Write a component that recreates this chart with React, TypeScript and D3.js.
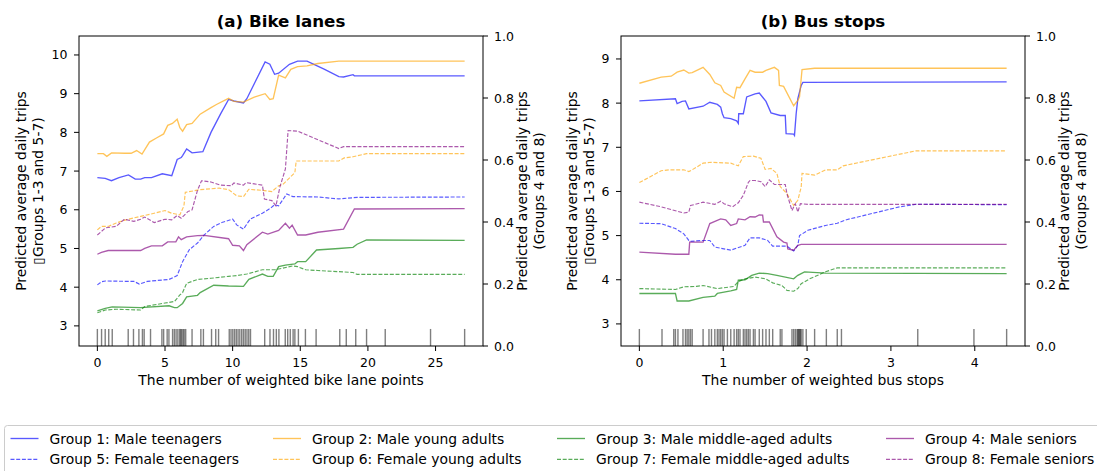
import React from 'react';
import * as d3 from 'd3';

type Pt = [number, number];

// ---------- Panel (a): bike lanes ----------
const bikeG1: Pt[] = [[0,6.83],[0.58,6.81],[1.04,6.75],[1.6,6.83],[2.3,6.9],[2.8,6.79],[3.2,6.79],[3.5,6.83],[4.0,6.83],[4.8,6.93],[5.5,6.88],[5.9,7.3],[6.2,7.35],[6.3,7.4],[6.6,7.57],[7.0,7.47],[7.8,7.5],[8.4,8.0],[9.1,8.47],[9.7,8.85],[10.1,8.81],[10.8,8.76],[11.05,8.87],[12.4,9.82],[12.75,9.76],[13.1,9.5],[13.4,9.53],[14.2,9.76],[14.8,9.84],[15.5,9.84],[16.8,9.63],[17.85,9.44],[18.2,9.43],[18.9,9.49],[19.0,9.46],[27.15,9.46]];
const bikeG2: Pt[] = [[0,7.45],[0.45,7.45],[0.7,7.38],[1.05,7.47],[2.0,7.46],[2.5,7.46],[2.9,7.53],[3.3,7.44],[3.85,7.75],[4.4,7.86],[4.9,7.96],[5.2,8.18],[5.55,8.23],[5.9,8.34],[6.1,8.12],[6.3,8.03],[6.6,8.2],[7.0,8.23],[7.6,8.47],[8.4,8.64],[8.8,8.72],[9.7,8.88],[10.1,8.8],[10.8,8.78],[11.6,8.91],[12.4,9.0],[12.75,8.85],[13.0,8.87],[13.4,9.48],[13.9,9.41],[14.3,9.63],[14.8,9.7],[15.5,9.72],[16.3,9.78],[17.85,9.84],[27.15,9.84]];
const bikeG3: Pt[] = [[0,3.39],[0.58,3.45],[1.1,3.49],[3.2,3.47],[5.3,3.52],[5.7,3.47],[5.9,3.47],[6.3,3.58],[6.6,3.75],[7.4,3.79],[7.6,3.86],[8.6,4.05],[9.7,4.03],[10.8,4.02],[11.2,4.2],[12.2,4.34],[12.6,4.28],[13.0,4.28],[13.4,4.53],[13.9,4.57],[14.6,4.6],[14.8,4.66],[15.4,4.66],[16.2,4.96],[17.85,5.0],[18.9,5.03],[19.2,5.11],[19.9,5.22],[27.15,5.21]];
const bikeG4: Pt[] = [[0,0.296],[0.3,0.302],[0.8,0.308],[3.2,0.308],[3.5,0.315],[4.0,0.323],[4.8,0.323],[5.2,0.336],[5.8,0.336],[6.0,0.352],[6.2,0.343],[6.6,0.352],[7.4,0.356],[7.9,0.357],[9.7,0.346],[10.0,0.325],[10.5,0.323],[10.8,0.308],[11.05,0.327],[12.2,0.367],[12.6,0.361],[13.4,0.373],[13.9,0.396],[14.2,0.38],[14.4,0.39],[14.8,0.358],[15.4,0.358],[16.3,0.367],[18.2,0.377],[19.0,0.442],[27.15,0.443]];
const bikeG5: Pt[] = [[0,4.06],[0.3,4.14],[0.6,4.16],[2.2,4.15],[2.7,4.15],[3.1,4.08],[3.7,4.15],[5.3,4.2],[5.9,4.3],[6.3,4.66],[6.8,4.97],[7.4,5.14],[7.9,5.35],[8.6,5.57],[9.2,5.67],[10.0,5.76],[10.3,5.61],[10.8,5.5],[11.3,5.76],[12.2,5.91],[12.8,6.04],[13.1,6.13],[13.4,6.1],[14.0,6.41],[14.45,6.34],[16.3,6.33],[17.85,6.28],[19.2,6.32],[27.15,6.33]];
const bikeG6: Pt[] = [[0,5.48],[0.3,5.57],[0.8,5.57],[1.4,5.66],[2.1,5.74],[3.2,5.83],[4.2,5.91],[5.0,5.98],[5.5,5.91],[6.1,5.87],[6.4,6.1],[6.5,6.45],[7.6,6.52],[9.0,6.56],[9.7,6.52],[10.3,6.36],[10.8,6.34],[11.2,6.53],[12.2,6.5],[12.9,6.47],[13.4,6.62],[13.7,6.65],[14.6,6.96],[14.7,7.26],[17.85,7.26],[18.25,7.34],[18.9,7.37],[19.9,7.45],[27.15,7.45]];
const bikeG7: Pt[] = [[0,3.34],[0.6,3.41],[1.4,3.43],[3.2,3.41],[3.5,3.5],[5.0,3.59],[5.7,3.63],[6.1,3.8],[6.3,3.86],[6.6,4.1],[7.4,4.2],[8.4,4.23],[9.7,4.28],[10.3,4.3],[11.05,4.34],[12.2,4.45],[13.1,4.45],[13.7,4.49],[14.45,4.55],[14.8,4.53],[15.4,4.45],[16.3,4.43],[18.9,4.38],[19.2,4.33],[27.15,4.33]];
const bikeG8: Pt[] = [[0,0.358],[0.6,0.381],[1.4,0.386],[2.0,0.409],[2.7,0.402],[3.2,0.409],[3.5,0.416],[4.2,0.398],[5.0,0.409],[5.5,0.407],[5.9,0.421],[6.2,0.412],[6.7,0.434],[7.0,0.439],[7.4,0.502],[7.7,0.533],[8.4,0.529],[9.1,0.519],[9.9,0.517],[10.1,0.526],[10.8,0.519],[11.0,0.527],[12.2,0.519],[12.35,0.474],[12.9,0.469],[13.2,0.452],[13.5,0.514],[13.9,0.571],[14.1,0.695],[14.8,0.693],[17.85,0.637],[18.2,0.643],[27.15,0.643]];
const bikeRug: number[] = [0,0.31,0.58,0.84,1.1,2.28,2.67,3.07,3.33,3.46,3.93,4.77,4.9,5.16,5.29,5.56,5.69,5.82,5.95,6.08,6.16,6.24,6.34,6.42,6.53,7.0,7.65,7.84,8.44,8.75,8.96,9.75,9.88,10.01,10.14,10.27,10.4,10.53,10.67,10.8,10.93,11.06,11.19,11.32,12.37,12.76,13.02,13.23,13.42,13.89,14.07,14.26,14.47,14.6,14.86,15.38,16.17,17.92,18.4,19.1,19.9,21.28,24.63,27.15];
const bikeXTicks = [0, 5, 10, 15, 20, 25];
const bikeLeftTicks = [3, 4, 5, 6, 7, 8, 9, 10];
const bikeLeftDomain: [number, number] = [2.48, 10.49];

// ---------- Panel (b): bus stops ----------
const busG1: Pt[] = [[0,8.05],[0.43,8.1],[0.45,7.99],[0.51,8.04],[0.55,8.05],[0.59,7.87],[0.76,7.93],[0.84,8.02],[0.93,7.97],[0.97,7.91],[0.99,7.76],[1.01,7.67],[1.09,7.65],[1.16,7.6],[1.18,7.54],[1.185,7.76],[1.24,7.76],[1.28,8.14],[1.38,8.21],[1.43,8.23],[1.51,8.04],[1.57,7.78],[1.68,7.72],[1.74,7.72],[1.75,7.31],[1.84,7.3],[1.85,7.27],[1.87,7.76],[1.89,8.1],[1.93,8.4],[1.95,8.47],[4.38,8.48]];
const busG2: Pt[] = [[0,8.45],[0.26,8.59],[0.38,8.61],[0.45,8.7],[0.53,8.75],[0.59,8.68],[0.63,8.69],[0.76,8.81],[0.84,8.65],[0.9,8.46],[0.97,8.4],[1.01,8.25],[1.13,8.11],[1.16,8.36],[1.2,8.35],[1.26,8.55],[1.32,8.74],[1.38,8.7],[1.47,8.7],[1.51,8.74],[1.61,8.81],[1.66,8.74],[1.67,8.4],[1.72,8.38],[1.84,7.94],[1.89,8.06],[1.91,8.14],[1.94,8.76],[2.09,8.79],[4.38,8.79]];
const busG3: Pt[] = [[0,3.69],[0.43,3.69],[0.45,3.52],[0.59,3.52],[0.76,3.6],[0.9,3.63],[0.93,3.69],[1.09,3.75],[1.16,3.78],[1.18,3.99],[1.26,4.0],[1.34,4.1],[1.43,4.15],[1.53,4.14],[1.64,4.1],[1.84,4.02],[1.89,4.1],[1.97,4.18],[2.22,4.15],[4.38,4.14]];
const busG4: Pt[] = [[0,0.303],[0.43,0.296],[0.59,0.296],[0.6,0.335],[0.76,0.335],[0.84,0.395],[0.97,0.41],[1.03,0.407],[1.09,0.389],[1.16,0.395],[1.18,0.41],[1.26,0.407],[1.32,0.417],[1.38,0.416],[1.43,0.423],[1.47,0.422],[1.48,0.4],[1.55,0.4],[1.64,0.352],[1.72,0.335],[1.76,0.332],[1.77,0.313],[1.84,0.309],[1.89,0.325],[1.93,0.328],[4.38,0.328]];
const busG5: Pt[] = [[0,5.28],[0.26,5.27],[0.43,5.16],[0.53,5.04],[0.59,4.89],[0.61,4.87],[0.76,4.89],[0.84,4.89],[0.9,4.74],[1.09,4.67],[1.26,4.78],[1.32,4.95],[1.43,4.95],[1.53,4.89],[1.59,4.76],[1.76,4.76],[1.84,4.65],[1.89,4.78],[1.91,5.0],[2.01,5.12],[2.22,5.23],[2.36,5.28],[2.47,5.36],[3.1,5.65],[3.3,5.71],[4.38,5.7]];
const busG6: Pt[] = [[0,6.2],[0.26,6.47],[0.36,6.49],[0.53,6.49],[0.59,6.45],[0.63,6.49],[0.76,6.64],[0.86,6.66],[1.09,6.64],[1.18,6.58],[1.24,6.79],[1.36,6.8],[1.45,6.75],[1.5,6.5],[1.57,6.52],[1.64,6.41],[1.68,6.11],[1.76,5.95],[1.84,5.68],[1.89,5.8],[1.93,6.1],[1.94,6.41],[2.09,6.37],[2.22,6.49],[2.36,6.49],[2.43,6.58],[3.3,6.92],[4.38,6.92]];
const busG7: Pt[] = [[0,3.8],[0.43,3.78],[0.53,3.84],[0.68,3.85],[0.76,3.87],[0.93,3.8],[1.13,3.85],[1.18,3.96],[1.26,4.02],[1.38,4.06],[1.51,4.02],[1.59,3.93],[1.7,3.87],[1.76,3.76],[1.84,3.74],[1.89,3.8],[1.93,3.91],[2.03,4.02],[2.22,4.18],[2.36,4.27],[4.38,4.27]];
const busG8: Pt[] = [[0,0.464],[0.26,0.449],[0.53,0.429],[0.59,0.432],[0.61,0.453],[0.76,0.464],[0.9,0.457],[0.97,0.467],[1.01,0.459],[1.11,0.449],[1.18,0.462],[1.24,0.486],[1.3,0.528],[1.32,0.534],[1.38,0.534],[1.45,0.53],[1.5,0.514],[1.55,0.536],[1.61,0.521],[1.74,0.521],[1.76,0.491],[1.82,0.437],[1.86,0.459],[1.89,0.432],[1.92,0.459],[2.01,0.457],[4.38,0.457]];
const busRug: number[] = [0,0.27,0.41,0.43,0.46,0.52,0.55,0.57,0.59,0.61,0.63,0.76,0.83,0.86,0.9,0.93,0.95,0.97,0.99,1.01,1.05,1.09,1.13,1.16,1.18,1.2,1.24,1.26,1.28,1.3,1.32,1.36,1.38,1.43,1.47,1.51,1.55,1.59,1.68,1.7,1.82,1.84,1.86,1.88,1.89,1.9,1.91,1.92,1.93,1.95,1.99,2.09,2.23,2.36,2.41,3.32,3.99,4.38];
const busXTicks = [0, 1, 2, 3, 4];
const busLeftTicks = [3, 4, 5, 6, 7, 8, 9];
const busLeftDomain: [number, number] = [2.5, 9.52];

const rightTicks = [0, 0.2, 0.4, 0.6, 0.8, 1.0];
const rightDomain: [number, number] = [0, 1];

// ---------- Groups ----------
const groupNames = [
  'Group 1: Male teenagers', 'Group 2: Male young adults', 'Group 3: Male middle-aged adults', 'Group 4: Male seniors',
  'Group 5: Female teenagers', 'Group 6: Female young adults', 'Group 7: Female middle-aged adults', 'Group 8: Female seniors',
];
const groupColors = ['#0000ff', '#ffa500', '#008000', '#800080', '#0000ff', '#ffa500', '#008000', '#800080'];
const groupDashed = [false, false, false, false, true, true, true, true];
const groupRight = [false, false, false, true, false, false, false, true];

const bikeSeries = [bikeG1, bikeG2, bikeG3, bikeG4, bikeG5, bikeG6, bikeG7, bikeG8];
const busSeries = [busG1, busG2, busG3, busG4, busG5, busG6, busG7, busG8];

const FONT = 'DejaVu Sans, sans-serif';
const TXT = '#000';
const AX_TOP = 36;
const AX_BOTTOM = 346;
const AX_W = 404;
const DASH = '4,1.7';

function strokeProps(i: number) {
  return {
    stroke: groupColors[i],
    strokeOpacity: 0.65,
    strokeWidth: groupDashed[i] ? 1.15 : 1.35,
    strokeDasharray: groupDashed[i] ? DASH : undefined,
    fill: 'none',
  };
}

interface PanelProps {
  x0: number;
  title: string;
  xLabel: string;
  xTicks: number[];
  leftTicks: number[];
  leftDomain: [number, number];
  rug: number[];
  series: Pt[][];
  leftLabelOffset: number;
}

function Panel({ x0, title, xLabel, xTicks, leftTicks, leftDomain, rug, series, leftLabelOffset }: PanelProps) {
  const left = x0;
  const right = x0 + AX_W;
  const top = AX_TOP;
  const bottom = AX_BOTTOM;
  const ext = d3.extent(rug) as [number, number];
  const pad = (ext[1] - ext[0]) * 0.05;
  const x = d3.scaleLinear().domain([ext[0] - pad, ext[1] + pad]).range([left, right]);
  const yL = d3.scaleLinear().domain(leftDomain).range([bottom, top]);
  const yR = d3.scaleLinear().domain(rightDomain).range([bottom, top]);
  const rugTop = bottom - (bottom - top) * 0.055;
  const fmtR = d3.format('.1f');
  const cx = (left + right) / 2;
  const cy = (top + bottom) / 2;
  const order = [0, 1, 2, 4, 5, 6, 3, 7];

  return (
    <g>
      {/* rug */}
      {rug.map((v, i) => (
        <line key={'r' + i} x1={x(v)} x2={x(v)} y1={bottom} y2={rugTop} stroke="#000" strokeOpacity={0.5} strokeWidth={1.4} />
      ))}
      {/* lines */}
      {order.map((gi) => {
        const yS = groupRight[gi] ? yR : yL;
        const line = d3.line<Pt>().x((d) => x(d[0])).y((d) => yS(d[1]));
        return <path key={'s' + gi} d={line(series[gi]) || ''} {...strokeProps(gi)} />;
      })}
      {/* frame */}
      <rect x={left} y={top} width={AX_W} height={bottom - top} fill="none" stroke="#000" strokeWidth={1} />
      {/* x ticks */}
      {xTicks.map((t) => (
        <g key={'x' + t}>
          <line x1={x(t)} x2={x(t)} y1={bottom} y2={bottom + 5} stroke="#000" strokeWidth={1} />
          <text x={x(t)} y={366.5} textAnchor="middle" fontSize={12.5} fontFamily={FONT} fill={TXT}>{t}</text>
        </g>
      ))}
      {/* left ticks */}
      {leftTicks.map((t) => (
        <g key={'l' + t}>
          <line x1={left} x2={left - 5} y1={yL(t)} y2={yL(t)} stroke="#000" strokeWidth={1} />
          <text x={left - 11.5} y={yL(t)} dy="0.36em" textAnchor="end" fontSize={12.5} fontFamily={FONT} fill={TXT}>{t}</text>
        </g>
      ))}
      {/* right ticks */}
      {rightTicks.map((t) => (
        <g key={'rt' + t}>
          <line x1={right} x2={right + 5} y1={yR(t)} y2={yR(t)} stroke="#000" strokeWidth={1} />
          <text x={right + 11} y={yR(t)} dy="0.36em" textAnchor="start" fontSize={12.5} fontFamily={FONT} fill={TXT}>{fmtR(t)}</text>
        </g>
      ))}
      {/* title */}
      <text x={cx} y={27} textAnchor="middle" fontSize={16.7} fontWeight="bold" fontFamily={FONT} fill={TXT}>{title}</text>
      {/* x label */}
      <text x={cx} y={385} textAnchor="middle" fontSize={13.9} fontFamily={FONT} fill={TXT}>{xLabel}</text>
      {/* left y label */}
      <text transform={`translate(${left - leftLabelOffset},${cy}) rotate(-90)`} textAnchor="middle" fontSize={13.9} fontFamily={FONT} fill={TXT}>Predicted average daily trips</text>
      <text transform={`translate(${left - leftLabelOffset + 17},${cy}) rotate(-90)`} textAnchor="middle" fontSize={13.9} fontFamily={FONT} fill={TXT}>{'\u25AFGroups 1-3 and 5-7)'}</text>
      {/* right y label */}
      <text transform={`translate(${right + 44},${cy}) rotate(-90)`} textAnchor="middle" fontSize={13.9} fontFamily={FONT} fill={TXT}>Predicted average daily trips</text>
      <text transform={`translate(${right + 61},${cy}) rotate(-90)`} textAnchor="middle" fontSize={13.9} fontFamily={FONT} fill={TXT}>(Groups 4 and 8)</text>
    </g>
  );
}

const legendColX = [10.5, 273, 557, 886];
const legendRowY = [438.5, 459.3];

function Legend() {
  return (
    <g>
      <rect x={4.5} y={425.5} width={1120} height={70} rx={3} fill="#fff" fillOpacity={0.8} stroke="#cccccc" strokeWidth={1} />
      {groupNames.map((name, i) => {
        const col = i % 4;
        const row = Math.floor(i / 4);
        const lx = legendColX[col];
        const ly = legendRowY[row];
        return (
          <g key={'lg' + i}>
            <line x1={lx} x2={lx + 28} y1={ly} y2={ly} {...strokeProps(i)} />
            <text x={lx + 39} y={ly} dy="0.36em" fontSize={13.9} fontFamily={FONT} fill={TXT}>{name}</text>
          </g>
        );
      })}
    </g>
  );
}

export default function App() {
  return (
    <svg width={1097} height={471} style={{ position: 'absolute', left: 0, top: 0, background: '#fff' }}>
      <rect x={0} y={0} width={1097} height={471} fill="#fff" />
      <Panel x0={79} title="(a) Bike lanes" xLabel="The number of weighted bike lane points" xTicks={bikeXTicks}
        leftTicks={bikeLeftTicks} leftDomain={bikeLeftDomain} rug={bikeRug} series={bikeSeries} leftLabelOffset={53.5} />
      <Panel x0={621} title="(b) Bus stops" xLabel="The number of weighted bus stops" xTicks={busXTicks}
        leftTicks={busLeftTicks} leftDomain={busLeftDomain} rug={busRug} series={busSeries} leftLabelOffset={44.5} />
      <Legend />
    </svg>
  );
}
